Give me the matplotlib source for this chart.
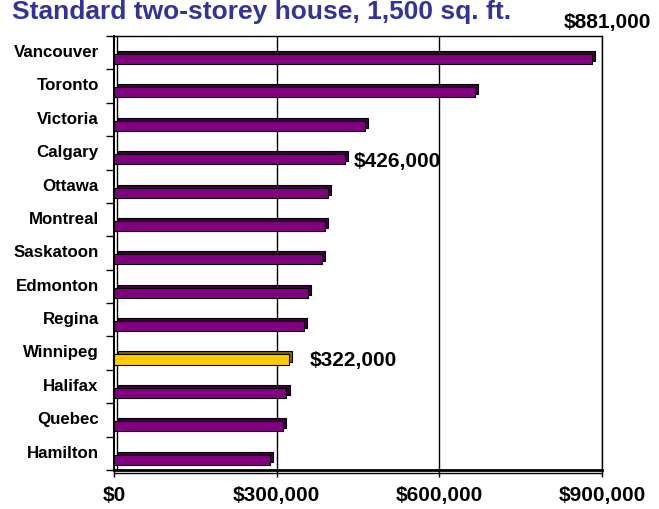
import matplotlib
matplotlib.use("Agg")
import matplotlib.pyplot as plt
import matplotlib.transforms as mtransforms
import numpy as np

plt.rcParams['font.family'] = ['Liberation Sans', 'DejaVu Sans']
plt.rcParams['font.weight'] = 'bold'

cities = ["Vancouver", "Toronto", "Victoria", "Calgary", "Ottawa", "Montreal",
          "Saskatoon", "Edmonton", "Regina", "Winnipeg", "Halifax", "Quebec", "Hamilton"]
prices = [881000, 665000, 462000, 426000, 394000, 389000,
          383000, 357000, 350000, 322000, 318000, 311000, 287000]
highlight = "Winnipeg"
labelled = {"Vancouver": "$881,000", "Calgary": "$426,000", "Winnipeg": "$322,000"}
xticks = [0, 300000, 600000, 900000]
xticklabels = ["$0", "$300,000", "$600,000", "$900,000"]
title = "Standard two-storey house, 1,500 sq. ft."

fig = plt.figure(figsize=(6.59, 5.10), dpi=100)
ax = fig.add_axes([114/659, 1-471/510, (602-114)/659, (471-37)/510])

n = len(cities)
y = np.arange(n)
bar_off = 0.19
bar_h = 0.30
front = ["#FFCC00" if c == highlight else "#800080" for c in cities]
side = ["#806600" if c == highlight else "#3d003d" for c in cities]

depth = mtransforms.offset_copy(ax.transData, fig=fig, x=3.5, y=3, units='dots')
ax.barh(y + bar_off, prices, height=bar_h, color=side, edgecolor='black',
        linewidth=0.8, transform=depth, zorder=3)
ax.barh(y + bar_off, prices, height=bar_h, color=front, edgecolor='black',
        linewidth=0.8, zorder=4)

ax.set_xlim(0, 900000)
ax.set_ylim(n - 0.5, -0.5)

# gridlines
for xv in xticks[1:]:
    ax.axvline(xv, color='black', lw=1.0, zorder=1)

ax.set_xticks(xticks)
ax.set_xticklabels(xticklabels, fontsize=15, fontweight='bold')
ax.tick_params(axis='x', length=5, width=1, direction='out', pad=6)

ax.set_yticks(np.arange(n + 1) - 0.5)
ax.set_yticklabels([])
ax.tick_params(axis='y', which='major', length=6, width=1, direction='out')
ax.set_yticks(y - 0.08, minor=True)
ax.set_yticklabels(cities, minor=True, fontsize=12.2, fontweight='bold')
ax.tick_params(axis='y', which='minor', length=0, pad=11)

for s in ax.spines.values():
    s.set_linewidth(1.0)
    s.set_color('black')
ax.spines['left'].set_linewidth(1.5)
ax.spines['bottom'].set_linewidth(2.0)

# back wall line and floor line (3D look)
wall = mtransforms.offset_copy(ax.transAxes, fig=fig, x=3, y=0, units='dots')
ax.plot([0, 0], [0, 1], color='black', lw=1.0, transform=wall, clip_on=False, zorder=2)
floor = mtransforms.offset_copy(ax.transAxes, fig=fig, x=0, y=-2.5, units='dots')
ax.plot([0, 1], [0, 0], color='black', lw=1.0, transform=floor, clip_on=False)

for c, v in zip(cities, prices):
    if c in labelled:
        i = cities.index(c)
        if c == "Vancouver":
            ax.annotate(labelled[c], xy=(v, i + bar_off), xytext=(16, 38),
                        textcoords='offset pixels', ha='center', va='center',
                        fontsize=15, fontweight='bold', annotation_clip=False)
        elif c == "Calgary":
            ax.annotate(labelled[c], xy=(v, i + bar_off), xytext=(9, -1),
                        textcoords='offset pixels', ha='left', va='center',
                        fontsize=15, fontweight='bold')
        else:
            ax.annotate(labelled[c], xy=(v, i + bar_off), xytext=(21, 0),
                        textcoords='offset pixels', ha='left', va='center',
                        fontsize=15, fontweight='bold')

fig.text(12/659, 1-0.5/510, title, color='#333399', fontsize=19, fontweight='bold',
         ha='left', va='top')

fig.savefig("out.png", dpi=100)
